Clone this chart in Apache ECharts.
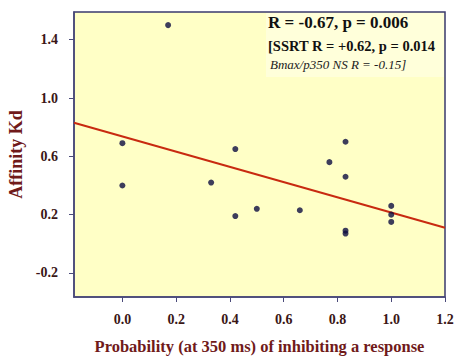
<!DOCTYPE html>
<html>
<head>
<meta charset="utf-8">
<script src="https://cdn.jsdelivr.net/npm/echarts@6/dist/echarts.min.js"></script>
<style>html,body{margin:0;padding:0;background:#fff;}#c{width:455px;height:358px;}</style>
</head>
<body>
<div id="c"></div>
<script>
// Data
var probX = [0.17, 0.00, 0.42, 0.83, 0.77, 0.83, 0.00, 0.33, 0.42, 0.50, 0.66, 0.83, 0.83, 1.00, 1.00, 1.00];
var kdY   = [1.50, 0.69, 0.65, 0.70, 0.56, 0.46, 0.40, 0.42, 0.19, 0.24, 0.23, 0.09, 0.07, 0.26, 0.20, 0.15];
var fitLineX = [-0.18, 1.20];
var fitLineY = [0.83, 0.11];
var xTicks = [0.0, 0.2, 0.4, 0.6, 0.8, 1.0, 1.2];
var yTicks = [-0.2, 0.2, 0.6, 1.0, 1.4];
var annotLines = ['R = -0.67, p = 0.006', '[SSRT R = +0.62, p = 0.014', 'Bmax/p350 NS R = -0.15]'];

var points = probX.map(function (x, i) { return [x, kdY[i]]; });
var fit = fitLineX.map(function (x, i) { return [x, fitLineY[i]]; });

var chart = echarts.init(document.getElementById('c'), null, {renderer: 'svg'});
var serif = 'Liberation Serif';
chart.setOption({
  backgroundColor: '#ffffff',
  animation: false,
  grid: {left: 74, right: 10, top: 12, bottom: 61, outerBoundsMode: 'none', containLabel: false, show: true, backgroundColor: '#ffffc6', borderColor: '#3a3a6e', borderWidth: 1.5},
  xAxis: {
    type: 'value', min: -0.18, max: 1.2,
    name: 'Probability (at 350 ms) of inhibiting a response',
    nameLocation: 'middle', nameGap: 41,
    nameTextStyle: {fontFamily: serif, fontWeight: 'bold', fontSize: 16.5, color: '#701a1a'},
    axisLine: {show: true, onZero: false, lineStyle: {color: '#4a4a7a', width: 1.5}},
    axisTick: {show: true, length: 5, customValues: xTicks, lineStyle: {color: '#4a4a7a'}},
    axisLabel: {customValues: xTicks, margin: 15, fontFamily: serif, fontWeight: 'bold', fontSize: 14, color: '#3a1616',
      formatter: function (v) { return v.toFixed(1); }},
    splitLine: {show: false}
  },
  yAxis: {
    type: 'value', min: -0.365, max: 1.59,
    name: 'Affinity Kd',
    nameLocation: 'middle', nameGap: 46,
    nameTextStyle: {fontFamily: serif, fontWeight: 'bold', fontSize: 18, color: '#701a1a'},
    axisLine: {show: true, onZero: false, lineStyle: {color: '#4a4a7a', width: 1.5}},
    axisTick: {show: true, length: 5, customValues: yTicks, lineStyle: {color: '#4a4a7a'}},
    axisLabel: {customValues: yTicks, margin: 16, fontFamily: serif, fontWeight: 'bold', fontSize: 14, color: '#3a1616',
      formatter: function (v) { return v.toFixed(1); }},
    splitLine: {show: false}
  },
  graphic: [
    {type: 'rect', shape: {x: 266, y: 13, width: 178, height: 64}, style: {fill: '#ffffda'}, z: 0, silent: true},
    {type: 'text', left: 268, top: 14, style: {text: annotLines[0], fontFamily: serif, fontWeight: 'bold', fontSize: 17, fill: '#111111'}},
    {type: 'text', left: 268, top: 38, style: {text: annotLines[1], fontFamily: serif, fontWeight: 'bold', fontSize: 14.5, fill: '#111111'}},
    {type: 'text', left: 270, top: 58, style: {text: annotLines[2], fontFamily: serif, fontStyle: 'italic', fontSize: 13, fill: '#222222'}}
  ],
  series: [
    {type: 'line', data: fit, symbol: 'none', lineStyle: {color: '#c82a10', width: 2}, z: 2},
    {type: 'scatter', data: points, symbol: 'circle', symbolSize: 6, itemStyle: {color: '#0c0c40'}, z: 3}
  ]
});
</script>
</body>
</html>
